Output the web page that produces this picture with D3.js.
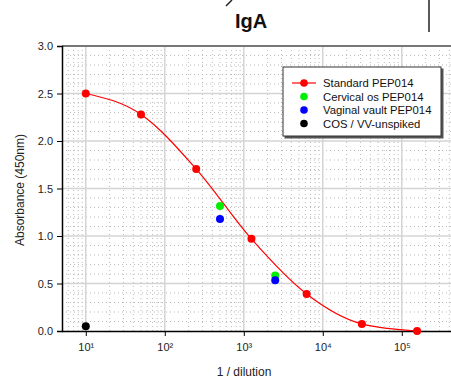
<!DOCTYPE html>
<html><head><meta charset="utf-8">
<script src="https://cdn.jsdelivr.net/npm/d3@7"></script>
<style>body{margin:0;background:#fff}svg{display:block;font-family:"Liberation Sans",Arial,sans-serif}</style>
</head><body><div id="chart"></div>
<script>
const dilutions = [10, 50, 250, 1250, 6250, 31250, 156250];
const standardValues = [2.50, 2.28, 1.705, 0.97, 0.39, 0.075, 0.0];
const cervicalDilutions = [500, 2500];
const cervicalValues = [1.315, 0.585];
const vaginalDilutions = [500, 2500];
const vaginalValues = [1.18, 0.535];
const unspikedDilutions = [10];
const unspikedValues = [0.05];
const yTicks = [0, 0.5, 1.0, 1.5, 2.0, 2.5, 3.0];
const xTicks = [10, 100, 1000, 10000, 100000];
const xTickLabels = ["10¹", "10²", "10³", "10⁴", "10⁵"];
const legendLabels = ["Standard PEP014", "Cervical os PEP014", "Vaginal vault PEP014", "COS / VV-unspiked"];
const legendColors = ["#ff0000", "#00ee00", "#0000ff", "#000000"];

const W = 451, H = 380;
const svg = d3.select("#chart").append("svg").attr("width", W).attr("height", H);
const pLeft = 62, pTop = 46, pBottom = 331;
const decade = 79;
const x = d3.scaleLog().domain([5, 1e6]).range([pLeft, pLeft + decade * Math.log10(1e6 / 5)]);
const y = d3.scaleLinear().domain([0, 3]).range([pBottom, pTop]);
const xMax = W;

svg.append("clipPath").attr("id", "clip").append("rect")
  .attr("x", pLeft).attr("y", pTop).attr("width", xMax - pLeft).attr("height", pBottom - pTop);

const grid = svg.append("g").attr("clip-path", "url(#clip)");
const minorX = [];
for (let e = 0; e <= 6; e++) for (let m = 2; m <= 9; m++) minorX.push(m * Math.pow(10, e));
grid.selectAll(".mx").data(minorX.filter(v => v > 5 && v < 1e6)).enter().append("line")
  .attr("x1", d => x(d)).attr("x2", d => x(d)).attr("y1", pTop).attr("y2", pBottom)
  .attr("stroke", "#bbb").attr("stroke-width", 1).attr("stroke-dasharray", "1,3");
const minorY = d3.range(1, 30).map(i => i / 10).filter(v => Math.abs(v * 2 - Math.round(v * 2)) > 1e-6);
grid.selectAll(".my").data(minorY).enter().append("line")
  .attr("x1", pLeft).attr("x2", xMax).attr("y1", d => y(d)).attr("y2", d => y(d))
  .attr("stroke", "#bbb").attr("stroke-width", 1).attr("stroke-dasharray", "1,3");
grid.selectAll(".MX").data(xTicks).enter().append("line")
  .attr("x1", d => x(d)).attr("x2", d => x(d)).attr("y1", pTop).attr("y2", pBottom)
  .attr("stroke", "#d4d4d4").attr("stroke-width", 1.5);
grid.selectAll(".MY").data(yTicks.slice(1, -1)).enter().append("line")
  .attr("x1", pLeft).attr("x2", xMax).attr("y1", d => y(d)).attr("y2", d => y(d))
  .attr("stroke", "#d4d4d4").attr("stroke-width", 1.5);

svg.append("line").attr("x1", pLeft).attr("x2", xMax).attr("y1", pTop).attr("y2", pTop)
  .attr("stroke", "#777").attr("stroke-width", 2);

const yAxis = svg.append("g").attr("transform", `translate(${pLeft},0)`)
  .call(d3.axisLeft(y).tickValues(yTicks).tickFormat(d3.format(".1f")).tickSize(5).tickPadding(4));
yAxis.select(".domain").attr("stroke", "#000").attr("stroke-width", 1.5);
yAxis.selectAll("text").attr("font-size", 11).attr("fill", "#222");
const xAxis = svg.append("g").attr("transform", `translate(0,${pBottom})`)
  .call(d3.axisBottom(x).tickValues(xTicks).tickFormat((d, i) => xTickLabels[i]).tickSize(5).tickPadding(7).tickSizeOuter(0));
xAxis.select(".domain").attr("d", `M${pLeft},0.5H${xMax}`).attr("stroke", "#000").attr("stroke-width", 1.5);
xAxis.selectAll("text").attr("font-size", 11).attr("fill", "#222");

const data = dilutions.map((d, i) => [d, standardValues[i]]);
svg.append("path").datum(data)
  .attr("d", d3.line().x(d => x(d[0])).y(d => y(d[1])).curve(d3.curveMonotoneX))
  .attr("fill", "none").attr("stroke", "#ff0000").attr("stroke-width", 1.2);

function pts(xs, ys, color) {
  svg.append("g").selectAll("circle").data(xs.map((d, i) => [d, ys[i]])).enter().append("circle")
    .attr("cx", d => x(d[0])).attr("cy", d => y(d[1])).attr("r", 4).attr("fill", color);
}
pts(dilutions, standardValues, legendColors[0]);
pts(cervicalDilutions, cervicalValues, legendColors[1]);
pts(vaginalDilutions, vaginalValues, legendColors[2]);
pts(unspikedDilutions, unspikedValues, legendColors[3]);

svg.append("text").attr("x", 244).attr("y", 376).attr("text-anchor", "middle")
  .attr("font-size", 12).attr("fill", "#222").text("1 / dilution");
svg.append("text").attr("transform", "translate(24,190) rotate(-90)").attr("text-anchor", "middle")
  .attr("font-size", 12).attr("fill", "#222").text("Absorbance (450nm)");
svg.append("text").attr("x", 251).attr("y", 28).attr("text-anchor", "middle")
  .attr("font-size", 20).attr("font-weight", "bold").attr("fill", "#111").text("IgA");

svg.append("line").attr("x1", 226).attr("y1", 6).attr("x2", 232).attr("y2", 0).attr("stroke", "#222").attr("stroke-width", 1.5);
svg.append("line").attr("x1", 429).attr("y1", 0).attr("x2", 429).attr("y2", 32).attr("stroke", "#222").attr("stroke-width", 1.5);

const lg = svg.append("g").attr("transform", "translate(283,67)");
lg.append("rect").attr("x", 1.5).attr("y", 1.5).attr("width", 159).attr("height", 70).attr("fill", "#555");
lg.append("rect").attr("x", 0).attr("y", 0).attr("width", 158).attr("height", 69)
  .attr("fill", "#fff").attr("stroke", "#333").attr("stroke-width", 1);
legendLabels.forEach((lab, i) => {
  const yy = 16 + i * 13.5;
  if (i === 0) lg.append("line").attr("x1", 9).attr("x2", 33).attr("y1", yy).attr("y2", yy)
    .attr("stroke", legendColors[0]).attr("stroke-width", 1.2);
  lg.append("circle").attr("cx", 21).attr("cy", yy).attr("r", 3.8).attr("fill", legendColors[i]);
  lg.append("text").attr("x", 40).attr("y", yy + 4).attr("font-size", 11.3).attr("fill", "#111").text(lab);
});
</script></body></html>
